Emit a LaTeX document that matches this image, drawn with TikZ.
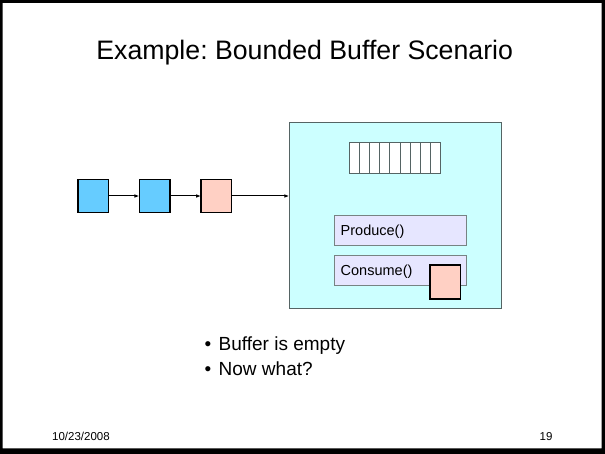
\documentclass[tikz,border=0pt]{standalone}
\usepackage{fontspec}
\setmainfont{Liberation Sans}
\usetikzlibrary{arrows.meta}
\frenchspacing
\definecolor{cyanfill}{RGB}{204,255,255}
\definecolor{boxedge}{RGB}{85,100,100}
\definecolor{bluefill}{RGB}{102,204,255}
\definecolor{pinkfill}{RGB}{255,208,196}
\definecolor{lavfill}{RGB}{230,230,255}
\begin{document}
\begin{tikzpicture}[x=1bp,y=-1bp,
  sq/.style={draw=black,line width=1.5bp,minimum width=30.5bp,minimum height=33.3bp,inner sep=0pt,outer sep=0pt},
  bluesq/.style={sq,fill=bluefill},
  pinksq/.style={sq,fill=pinkfill},
  method/.style={draw=boxedge!80,line width=1bp,fill=lavfill,minimum width=131.7bp,minimum height=30.4bp,inner sep=0pt,outer sep=0pt},
  lbl/.style={inner sep=0pt,font=\fontsize{14.5bp}{17bp}\selectfont},
  conn/.style={line width=1bp,-{Latex[length=5bp,width=3.6bp]}},
  bullettxt/.style={inner sep=0pt,anchor=base west,font=\fontsize{19bp}{23bp}\selectfont},
  foot/.style={inner sep=0pt,font=\fontsize{11.5bp}{13bp}\selectfont}
]
\useasboundingbox (0,0) rectangle (605,454);
% slide frame
\fill[black,even odd rule] (0,0) rectangle (605,454) (2.7,3) rectangle (601.7,448.3);
% title
\node[inner sep=0pt,anchor=base,font=\fontsize{26.7bp}{30bp}\selectfont] (title) at (304.7,60) {Example: Bounded Buffer Scenario};
% monitor box
\node[draw=boxedge,line width=1bp,fill=cyanfill,minimum width=211.7bp,minimum height=186bp,inner sep=0pt,outer sep=0pt] (mon) at (395.15,215.7) {};
% buffer slots
\node[draw=boxedge,line width=1bp,fill=white,minimum width=91.4bp,minimum height=31bp,inner sep=0pt,outer sep=0pt] (buf) at (395,157.8) {};
\foreach \i in {1,...,8}{
  \draw[boxedge,line width=1bp] (349.3+\i*10.156,142.3) -- (349.3+\i*10.156,173.3);
}
% methods
\node[method] (prod) at (400.15,230.5) {};
\node[lbl,anchor=base west] (prodt) at (340.5,235.3) {Produce()};
\node[method] (cons) at (400.15,270.5) {};
\node[lbl,anchor=base west] (const) at (340.5,276) {Consume()};
\node[pinksq,minimum height=34bp] (inside) at (445.35,282) {};
% threads
\node[bluesq] (b1) at (93.3,196) {};
\node[bluesq] (b2) at (154.7,196) {};
\node[pinksq] (b3) at (216.4,196) {};
\draw[conn] (b1.east) -- (b2.west);
\draw[conn] (b2.east) -- (b3.west);
\draw[conn] (b3.east) -- (b3.east -| mon.west);
% bullets
\node[bullettxt] (l1) at (204.3,350.7) {\makebox[14.2bp][l]{•}Buffer is empty};
\node[bullettxt] (l2) at (204.3,375) {\makebox[14.2bp][l]{•}Now what?};
% footer
\node[foot,anchor=base west] (date) at (52,440) {10/23/2008};
\node[foot,anchor=base] (page) at (546,440) {19};
\end{tikzpicture}
\end{document}
